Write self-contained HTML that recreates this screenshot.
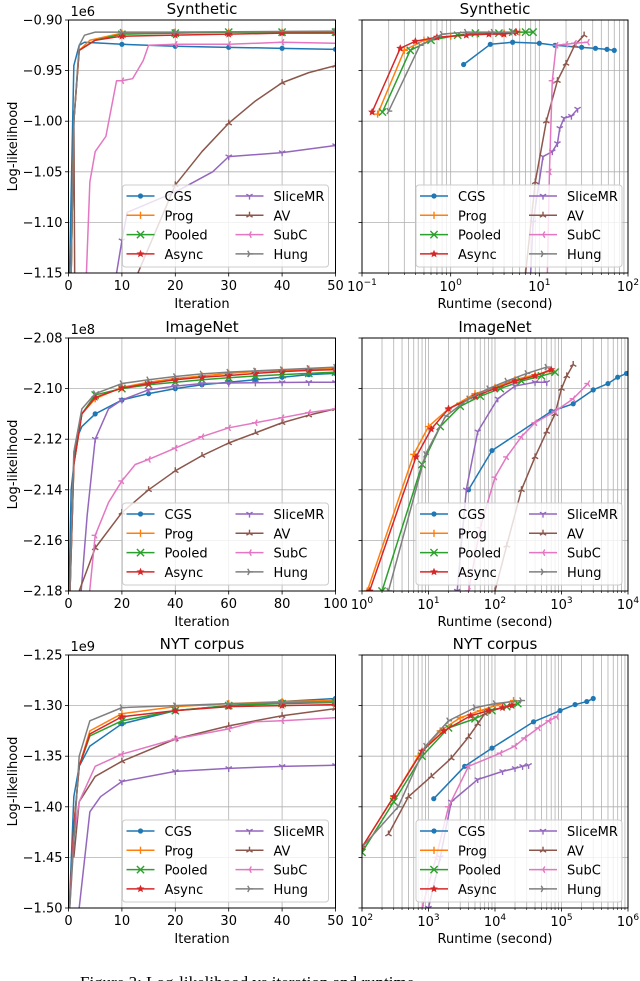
<!DOCTYPE html>
<html><head><meta charset="utf-8">
<style>
html,body{margin:0;padding:0;background:#fff;overflow:hidden;}
svg{display:block;font-family:"DejaVu Sans","Liberation Sans",sans-serif;}
</style></head>
<body>
<svg id="fig" width="640" height="981" viewBox="0 0 640 981" xmlns="http://www.w3.org/2000/svg">
<text x="80" y="988" font-family="Liberation Serif, serif" font-size="17">Figure 3: Log-likelihood vs iteration and runtime</text>
</svg>
<script>
// ---------- data ----------
const seriesNames = ["CGS","Prog","Pooled","Async","SliceMR","AV","SubC","Hung"];
const seriesColors = ["#1f77b4","#ff7f0e","#2ca02c","#d62728","#9467bd","#8c564b","#e377c2","#7f7f7f"];
const seriesMarkers = ["o","+","x","*","1","2","3","4"];

const panelTitles = ["Synthetic","Synthetic","ImageNet","ImageNet","NYT corpus","NYT corpus"];
const offsetLabels = ["1e6","1e8","1e9"];
const yTicksSyn = [-1.15,-1.10,-1.05,-1.00,-0.95,-0.90];
const yTicksImg = [-2.18,-2.16,-2.14,-2.12,-2.10,-2.08];
const yTicksNyt = [-1.50,-1.45,-1.40,-1.35,-1.30,-1.25];
const xTicksSynIter = [0,10,20,30,40,50];
const xTicksImgIter = [0,20,40,60,80,100];
const xTicksNytIter = [0,10,20,30,40,50];
const xDecSynRun = [-1,2];
const xDecImgRun = [0,4];
const xDecNytRun = [2,6];

// Synthetic - iteration
const synIterCGS = [[0,-1.2],[1,-0.945],[2,-0.925],[3,-0.922],[10,-0.924],[20,-0.926],[30,-0.927],[40,-0.928],[50,-0.929]];
const synIterProg = [[0,-1.3],[1,-1.0],[2,-0.93],[4,-0.92],[10,-0.913],[20,-0.912],[30,-0.912],[40,-0.912],[50,-0.912]];
const synIterPooled = [[0,-1.3],[1,-1.0],[2,-0.93],[5,-0.92],[10,-0.914],[20,-0.913],[30,-0.912],[40,-0.912],[50,-0.912]];
const synIterAsync = [[0,-1.3],[1,-1.0],[2,-0.93],[5,-0.92],[10,-0.916],[20,-0.915],[30,-0.914],[40,-0.913],[50,-0.913]];
const synIterSlice = [[9,-1.15],[10,-1.118],[11,-1.09],[20,-1.07],[27,-1.05],[30,-1.035],[40,-1.031],[50,-1.024]];
const synIterAV = [[1,-0.99],[1.2,-1.2],[13,-1.15],[20,-1.063],[25,-1.03],[30,-1.002],[35,-0.98],[40,-0.962],[45,-0.952],[50,-0.945]];
const synIterSubC = [[3,-1.2],[4,-1.06],[5,-1.03],[7,-1.015],[9,-0.96],[10,-0.96],[12,-0.958],[14,-0.94],[15,-0.925],[20,-0.924],[30,-0.924],[40,-0.922],[50,-0.923]];
const synIterHung = [[0,-1.3],[1,-1.0],[2,-0.925],[3,-0.915],[5,-0.912],[10,-0.912],[20,-0.912],[50,-0.911]];
// Synthetic - runtime
const synRunCGS = [[1.4,-0.944],[2.8,-0.924],[5,-0.922],[10,-0.923],[15,-0.925],[30,-0.927],[43,-0.928],[58,-0.929],[70,-0.93]];
const synRunProg = [[0.15,-0.993],[0.3,-0.93],[0.5,-0.92],[1,-0.916],[2,-0.914],[4,-0.913],[6,-0.912]];
const synRunPooled = [[0.17,-0.991],[0.35,-0.93],[0.6,-0.92],[1.2,-0.915],[1.9,-0.913],[3.5,-0.913],[5,-0.912],[7,-0.912],[8.5,-0.912]];
const synRunAsync = [[0.13,-0.991],[0.27,-0.928],[0.4,-0.921],[0.7,-0.917],[1.5,-0.915],[2.7,-0.914],[4,-0.914],[5.5,-0.912]];
const synRunSlice = [[7.5,-1.2],[8.5,-1.1],[11,-1.035],[14,-1.03],[16,-1.022],[17,-1.007],[19,-0.997],[23,-0.995],[27,-0.988]];
const synRunAV = [[7,-1.15],[9,-1.06],[12,-1.0],[16,-0.96],[20,-0.943],[25,-0.925],[32,-0.915]];
const synRunSubC = [[12,-1.2],[13,-1.05],[14,-0.96],[15.5,-0.925],[20,-0.924],[25,-0.923],[35,-0.922]];
const synRunHung = [[0.2,-0.99],[0.45,-0.925],[0.8,-0.914],[1.5,-0.912],[3,-0.912],[5,-0.912]];
// ImageNet - iteration
const imgIterCGS = [[0,-2.19],[1,-2.14],[3,-2.12],[5,-2.115],[10,-2.11],[20,-2.1045],[30,-2.102],[40,-2.1],[50,-2.0985],[60,-2.0975],[70,-2.0965],[80,-2.0955],[90,-2.0945],[100,-2.094]];
const imgIterProg = [[0,-2.2],[2,-2.13],[5,-2.11],[10,-2.104],[20,-2.0995],[30,-2.0975],[40,-2.096],[50,-2.095],[60,-2.094],[70,-2.0933],[80,-2.0928],[90,-2.0923],[100,-2.092]];
const imgIterPooled = [[0,-2.2],[2,-2.13],[5,-2.11],[10,-2.1025],[20,-2.1],[30,-2.0985],[40,-2.0975],[50,-2.0965],[60,-2.0957],[70,-2.095],[80,-2.0945],[90,-2.094],[100,-2.0935]];
const imgIterAsync = [[0,-2.2],[2,-2.13],[5,-2.11],[10,-2.1035],[20,-2.0998],[30,-2.098],[40,-2.0965],[50,-2.0955],[60,-2.0948],[70,-2.094],[80,-2.0933],[90,-2.0928],[100,-2.0925]];
const imgIterSlice = [[4,-2.19],[7,-2.15],[10,-2.12],[15,-2.108],[20,-2.1045],[30,-2.1005],[40,-2.099],[50,-2.098],[60,-2.0978],[70,-2.0977],[80,-2.0976],[90,-2.0975],[100,-2.0975]];
const imgIterAV = [[4,-2.18],[10,-2.163],[20,-2.149],[30,-2.14],[40,-2.1325],[50,-2.1265],[60,-2.1215],[70,-2.1175],[80,-2.1135],[90,-2.1105],[100,-2.108]];
const imgIterSubC = [[7,-2.19],[10,-2.158],[15,-2.145],[20,-2.1365],[25,-2.13],[30,-2.128],[40,-2.1235],[50,-2.119],[60,-2.1155],[70,-2.1135],[80,-2.1115],[90,-2.1095],[100,-2.108]];
const imgIterHung = [[0,-2.2],[2,-2.125],[5,-2.108],[10,-2.102],[20,-2.098],[30,-2.0965],[40,-2.0952],[50,-2.0942],[60,-2.0935],[70,-2.093],[80,-2.0925],[90,-2.092],[100,-2.0915]];
// ImageNet - runtime
const imgRunCGS = [[40,-2.14],[90,-2.1245],[700,-2.109],[1500,-2.106],[3000,-2.1005],[5000,-2.098],[7000,-2.0955],[9500,-2.094]];
const imgRunProg = [[1.2,-2.18],[6,-2.126],[10,-2.115],[20,-2.108],[50,-2.102],[100,-2.0995],[200,-2.0965],[400,-2.0945],[700,-2.093]];
const imgRunPooled = [[2,-2.18],[8,-2.13],[15,-2.115],[30,-2.107],[60,-2.103],[120,-2.1],[250,-2.097],[500,-2.095],[800,-2.0935]];
const imgRunAsync = [[1.3,-2.18],[6.5,-2.127],[11,-2.116],[20,-2.108],[50,-2.103],[100,-2.1],[200,-2.097],[400,-2.095],[700,-2.0925]];
const imgRunSlice = [[27,-2.18],[37,-2.14],[55,-2.117],[110,-2.104],[200,-2.099],[400,-2.0975],[600,-2.0975]];
const imgRunAV = [[100,-2.18],[150,-2.162],[250,-2.14],[400,-2.127],[600,-2.117],[800,-2.11],[1000,-2.1],[1200,-2.095],[1500,-2.0905]];
const imgRunSubC = [[40,-2.18],[60,-2.155],[100,-2.135],[150,-2.127],[250,-2.119],[400,-2.1135],[800,-2.109],[1500,-2.104],[2500,-2.098]];
const imgRunHung = [[2.5,-2.18],[9,-2.126],[18,-2.111],[40,-2.104],[80,-2.1],[150,-2.097],[300,-2.094],[600,-2.0915]];
// NYT - iteration
const nytIterCGS = [[0,-1.52],[1,-1.39],[2,-1.36],[4,-1.34],[10,-1.318],[20,-1.305],[30,-1.3],[40,-1.296],[50,-1.293]];
const nytIterProg = [[0,-1.52],[1,-1.42],[2,-1.36],[4,-1.325],[10,-1.308],[20,-1.301],[30,-1.298],[40,-1.296],[50,-1.295]];
const nytIterPooled = [[0,-1.52],[1,-1.42],[2,-1.36],[4,-1.33],[10,-1.315],[20,-1.305],[30,-1.3],[40,-1.298],[50,-1.297]];
const nytIterAsync = [[0,-1.52],[1,-1.42],[2,-1.36],[4,-1.328],[10,-1.311],[20,-1.305],[30,-1.301],[40,-1.3],[50,-1.299]];
const nytIterSlice = [[2,-1.5],[4,-1.405],[6,-1.39],[10,-1.375],[20,-1.365],[30,-1.362],[40,-1.36],[50,-1.359]];
const nytIterAV = [[1,-1.45],[2,-1.395],[5,-1.37],[10,-1.355],[20,-1.333],[30,-1.32],[40,-1.31],[50,-1.303]];
const nytIterSubC = [[0,-1.52],[1,-1.43],[2,-1.395],[5,-1.36],[10,-1.348],[20,-1.333],[30,-1.323],[35,-1.316],[40,-1.315],[50,-1.312]];
const nytIterHung = [[0,-1.52],[2,-1.35],[4,-1.315],[10,-1.302],[20,-1.3],[30,-1.298],[40,-1.297],[50,-1.296]];
// NYT - runtime
const nytRunCGS = [[1200,-1.392],[3500,-1.36],[9000,-1.342],[38000,-1.316],[95000,-1.305],[160000,-1.299],[240000,-1.296],[300000,-1.293]];
const nytRunProg = [[100,-1.44],[300,-1.39],[700,-1.35],[1500,-1.325],[3000,-1.312],[6000,-1.305],[10000,-1.3],[19000,-1.295]];
const nytRunPooled = [[100,-1.445],[300,-1.395],[800,-1.35],[2000,-1.322],[5000,-1.313],[9000,-1.305],[15000,-1.301],[22000,-1.298]];
const nytRunAsync = [[100,-1.44],[300,-1.39],[800,-1.345],[1700,-1.325],[4300,-1.31],[8000,-1.305],[13000,-1.302],[18000,-1.3]];
const nytRunSlice = [[1000,-1.5],[1500,-1.45],[2200,-1.395],[5500,-1.373],[13000,-1.365],[20000,-1.362],[26000,-1.36],[32000,-1.359]];
const nytRunAV = [[250,-1.427],[500,-1.39],[1100,-1.37],[2200,-1.352],[4000,-1.331],[5500,-1.318],[7000,-1.308]];
const nytRunSubC = [[800,-1.5],[1300,-1.45],[2000,-1.4],[4000,-1.36],[12000,-1.347],[20000,-1.34],[28000,-1.332],[45000,-1.322],[65000,-1.315],[85000,-1.311]];
const nytRunHung = [[100,-1.44],[350,-1.4],[900,-1.34],[2000,-1.315],[5000,-1.302],[10000,-1.298],[25000,-1.295]];

// ---------- drawing ----------
const NS = "http://www.w3.org/2000/svg";
const svg = document.getElementById("fig");
function mk(tag, attrs, parent){
  const e = document.createElementNS(NS, tag);
  for (const k in attrs) e.setAttribute(k, attrs[k]);
  (parent||svg).appendChild(e);
  return e;
}
const rows = [{t:20,b:273},{t:338,b:591},{t:655,b:908}];
const cols = [{l:68.5,r:335.5},{l:362,r:628}];
const rowData = [
  {yt:yTicksSyn, iter:[synIterCGS,synIterProg,synIterPooled,synIterAsync,synIterSlice,synIterAV,synIterSubC,synIterHung], run:[synRunCGS,synRunProg,synRunPooled,synRunAsync,synRunSlice,synRunAV,synRunSubC,synRunHung], xt:xTicksSynIter, dec:xDecSynRun},
  {yt:yTicksImg, iter:[imgIterCGS,imgIterProg,imgIterPooled,imgIterAsync,imgIterSlice,imgIterAV,imgIterSubC,imgIterHung], run:[imgRunCGS,imgRunProg,imgRunPooled,imgRunAsync,imgRunSlice,imgRunAV,imgRunSubC,imgRunHung], xt:xTicksImgIter, dec:xDecImgRun},
  {yt:yTicksNyt, iter:[nytIterCGS,nytIterProg,nytIterPooled,nytIterAsync,nytIterSlice,nytIterAV,nytIterSubC,nytIterHung], run:[nytRunCGS,nytRunProg,nytRunPooled,nytRunAsync,nytRunSlice,nytRunAV,nytRunSubC,nytRunHung], xt:xTicksNytIter, dec:xDecNytRun}
];

function marker(g, type, x, y, color){
  const s = 3.6;
  if (type==="o"){ mk("circle",{cx:x,cy:y,r:2.6,fill:color},g); return; }
  if (type==="*"){
    let pts=[];
    for(let i=0;i<10;i++){const a=-Math.PI/2+i*Math.PI/5;const r=i%2?1.9:4.2;pts.push((x+r*Math.cos(a)).toFixed(2)+","+(y+r*Math.sin(a)).toFixed(2));}
    mk("polygon",{points:pts.join(" "),fill:color},g); return;
  }
  let segs=[];
  const tri=(angs)=>angs.map(a=>[0,0,s*Math.cos(a),s*Math.sin(a)]);
  if (type==="+") segs=[[-s,0,s,0],[0,-s,0,s]];
  if (type==="x") segs=[[-s,-s,s,s],[-s,s,s,-s]];
  if (type==="1") segs=tri([Math.PI/2,-Math.PI/6,-5*Math.PI/6]);
  if (type==="2") segs=tri([-Math.PI/2,Math.PI/6,5*Math.PI/6]);
  if (type==="3") segs=tri([Math.PI,-Math.PI/3,Math.PI/3]);
  if (type==="4") segs=tri([0,-2*Math.PI/3,2*Math.PI/3]);
  for(const q of segs) mk("line",{x1:x+q[0],y1:y+q[1],x2:x+q[2],y2:y+q[3],stroke:color,"stroke-width":1.4},g);
}

function tickLabelPow(parent, x, y, p){
  const t = mk("text",{x:x,y:y,"text-anchor":"middle","font-size":13},parent);
  
  
  t.appendChild(document.createTextNode("10"));
  const sp = mk("tspan",{dy:-6,"font-size":9},t);
  sp.textContent = (p<0?"\u2212":"")+Math.abs(p);
}

rows.forEach((R, ri)=>{
  const D = rowData[ri];
  const yMin = D.yt[0], yMax = D.yt[D.yt.length-1];
  const sy = v => R.b - (v - yMin)/(yMax - yMin)*(R.b - R.t);
  cols.forEach((C, ci)=>{
    const isLog = ci===1;
    const x0 = isLog ? D.dec[0] : D.xt[0];
    const x1 = isLog ? D.dec[1] : D.xt[D.xt.length-1];
    const sx = v => { const u = isLog ? Math.log10(v) : v; return C.l + (u - x0)/(x1 - x0)*(C.r - C.l); };
    const g = mk("g",{});
    
    
    const cid = "clip"+ri+"_"+ci;
    const cp = mk("clipPath",{id:cid},g);
    mk("rect",{x:C.l,y:R.t,width:C.r-C.l,height:R.b-R.t},cp);
    const grid = mk("g",{stroke:"#b0b0b0","stroke-width":0.8},g);
    
    
    D.yt.forEach(v=>mk("line",{x1:C.l,x2:C.r,y1:sy(v),y2:sy(v)},grid));
    if (!isLog){
      D.xt.forEach(v=>mk("line",{x1:sx(v),x2:sx(v),y1:R.t,y2:R.b},grid));
    } else {
      for (let d=D.dec[0]; d<D.dec[1]; d++){
        for (let m=1;m<10;m++){ const X=sx(m*Math.pow(10,d)); mk("line",{x1:X,x2:X,y1:R.t,y2:R.b},grid); }
      }
    }
    const data = isLog ? D.run : D.iter;
    const sg = mk("g",{"clip-path":"url(#"+cid+")"},g);
    data.forEach((pts, si)=>{
      const col = seriesColors[si];
      const pl = mk("polyline",{points:pts.map(p=>sx(p[0]).toFixed(2)+","+sy(p[1]).toFixed(2)).join(" "),fill:"none",stroke:col,"stroke-width":1.5,"stroke-linejoin":"round"},sg);
      
      
      pts.forEach(p=>{
        if (isLog || (p[0] % 10 === 0 && p[0] > 0)) marker(sg, seriesMarkers[si], sx(p[0]), sy(p[1]), col);
      });
    });
    const fr = mk("rect",{x:C.l,y:R.t,width:C.r-C.l,height:R.b-R.t,fill:"none",stroke:"#000","stroke-width":1},g);
    
    
    D.yt.forEach(v=>{
      mk("line",{x1:C.l-3.5,x2:C.l,y1:sy(v),y2:sy(v),stroke:"#000","stroke-width":0.8},g);
      if (!isLog){
        const t = mk("text",{x:C.l-6,y:sy(v)+4.5,"text-anchor":"end","font-size":13},g);
        
        
        t.textContent = "\u2212"+Math.abs(v).toFixed(2);
      }
    });
    if (!isLog){
      D.xt.forEach(v=>{
        mk("line",{x1:sx(v),x2:sx(v),y1:R.b,y2:R.b+3.5,stroke:"#000","stroke-width":0.8},g);
        const t = mk("text",{x:sx(v),y:R.b+17,"text-anchor":"middle","font-size":13},g);
        
        
        t.textContent = String(v);
      });
    } else {
      for (let d=D.dec[0]; d<=D.dec[1]; d++){
        const X = sx(Math.pow(10,d));
        mk("line",{x1:X,x2:X,y1:R.b,y2:R.b+3.5,stroke:"#000","stroke-width":0.8},g);
        tickLabelPow(g, X, R.b+18, d);
        if (d<D.dec[1]) for(let m=2;m<10;m++){const XX=sx(m*Math.pow(10,d)); mk("line",{x1:XX,x2:XX,y1:R.b,y2:R.b+2,stroke:"#000","stroke-width":0.6},g);}
      }
    }
    const tt = mk("text",{x:(C.l+C.r)/2,y:R.t-6,"text-anchor":"middle","font-size":15},g);
    
    
    tt.textContent = panelTitles[ri*2+ci];
    const xl = mk("text",{x:(C.l+C.r)/2,y:R.b+35,"text-anchor":"middle","font-size":13},g);
    
    
    xl.textContent = isLog ? "Runtime (second)" : "Iteration";
    if (!isLog){
      const off = mk("text",{x:C.l+2,y:R.t-4,"font-size":13},g);
      
      
      off.textContent = offsetLabels[ri];
      const yl = mk("text",{x:0,y:0,"text-anchor":"middle","font-size":13,transform:"translate(17,"+((R.t+R.b)/2)+") rotate(-90)"},g);
      
      
      yl.textContent = "Log-likelihood";
    }
    const lx = C.l + 54, lt = R.t + 165;
    const lg = mk("g",{},g);
    
    
    mk("rect",{x:lx,y:lt,width:206,height:82,rx:3,fill:"#fff","fill-opacity":0.8,stroke:"#ccc","stroke-width":1},lg);
    seriesNames.forEach((n, si)=>{
      const colI = si<4 ? 0 : 1, rowI = si%4;
      const ex = lx + 4 + colI*109, ey = lt + 11 + rowI*19.3;
      const e = mk("g",{},lg);
      
      
      mk("line",{x1:ex,x2:ex+28,y1:ey,y2:ey,stroke:seriesColors[si],"stroke-width":1.5},e);
      marker(e, seriesMarkers[si], ex+14, ey, seriesColors[si]);
      const t = mk("text",{x:ex+38,y:ey+5,"font-size":13},e);
      t.textContent = n;
    });
  });
});
</script>
</body></html>
